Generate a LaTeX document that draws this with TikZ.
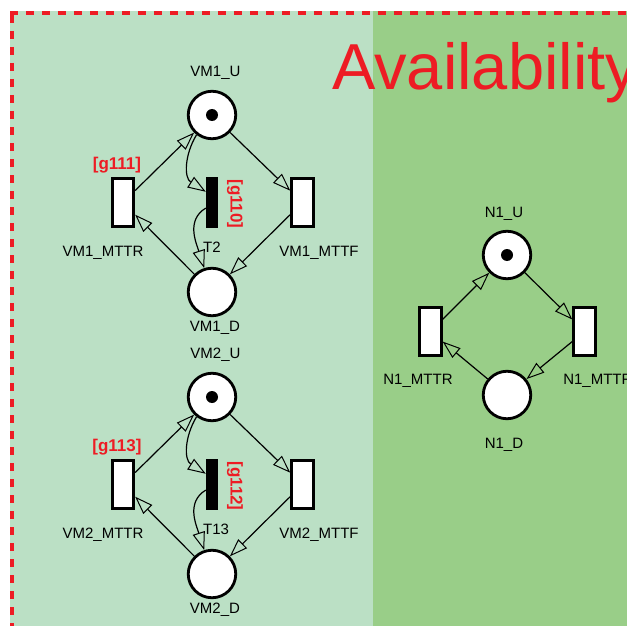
\documentclass[tikz,border=0pt]{standalone}
\usepackage{fontspec}
\setmainfont{Liberation Sans}
\usetikzlibrary{arrows.meta}

\definecolor{availred}{RGB}{237,28,36}
\definecolor{vmgreen}{RGB}{187,224,197}
\definecolor{netgreen}{RGB}{153,206,136}

% One VM availability sub-net: #1 index, #2 name of the immediate transition,
% #3 guard of the repair transition, #4 guard of the immediate transition
\newcommand{\vmblock}[4]{%
  \node[place] (vm#1u) at (212,115) {};
  \node[token] (vm#1dot) at (vm#1u) {};
  \node[place] (vm#1d) at (212,292) {};
  \node[timed] (vm#1mttr) at (123,202.5) {};
  \node[immediate] (vm#1t) at (212,202.5) {};
  \node[timed] (vm#1mttf) at (302.5,202.5) {};
  \node[lbl] (vm#1ulbl) at (215.5,76.5) {VM#1\_U};
  \node[lbl] (vm#1dlbl) at (215,331.5) {VM#1\_D};
  \node[lbl] (vm#1mttrlbl) at (103,256) {VM#1\_MTTR};
  \node[lbl] (vm#1mttflbl) at (319,256) {VM#1\_MTTF};
  \node[lbl, anchor=base west] (vm#1tlbl) at (203,252.5) {#2};
  \node[guard, anchor=base] (vm#1rguard) at (117,169) {#3};
  \node[guard, rotate=-90] (vm#1tguard) at (235,204) {#4};
  \draw[arc] (vm#1mttr) -- (vm#1u);
  \draw[arc] (vm#1u) -- (vm#1mttf);
  \draw[arc] (vm#1mttf) -- (vm#1d);
  \draw[arc] (vm#1d) -- (vm#1mttr);
  \draw[arc] (vm#1u.232) .. controls +(-12,20) and +(-22,-14) .. (vm#1t.120);
  \draw[arc] (vm#1t.222) .. controls +(-20,12) and +(-8,-25) .. (vm#1d.108);
}

\begin{document}
\begin{tikzpicture}[x=1pt,y=-1pt,
  place/.style={circle, draw=black, line width=2.8pt, fill=white,
    minimum size=47.5pt, inner sep=0pt},
  timed/.style={rectangle, draw=black, line width=2.8pt, fill=white,
    minimum width=21.5pt, minimum height=48.5pt, inner sep=0pt},
  immediate/.style={rectangle, fill=black, minimum width=12pt,
    minimum height=51pt, inner sep=0pt},
  token/.style={circle, fill=black, minimum size=12pt, inner sep=0pt},
  lbl/.style={font=\fontsize{15}{18}\selectfont, inner sep=0pt, anchor=base},
  guard/.style={font=\fontsize{17}{20}\selectfont\bfseries, text=availred,
    inner sep=0pt},
  arc/.style={line width=1.2pt,
    -{Triangle[open, length=18pt, width=12.5pt, line width=1pt]}},
  frame/.style={availred, line width=4pt, dash pattern=on 8pt off 8pt},
]
\useasboundingbox (0,0) rectangle (627,626);
\fill[white] (0,0) rectangle (627,626);

% background panels and the dashed frame
\fill[vmgreen] (10,11) rectangle (373,626);
\fill[netgreen] (373,11) rectangle (627,626);
\draw[frame] (10,13) -- (627,13);
\draw[frame] (12,15) -- (12,626);

\node[anchor=base west, text=availred, font=\fontsize{65}{70}\selectfont,
  inner sep=0pt] (title) at (332,89) {Availability};

% VM sub-nets
\vmblock{1}{T2}{[g111]}{[g110]}
\begin{scope}[yshift=-282pt]
  \vmblock{2}{T13}{[g113]}{[g112]}
\end{scope}

% network sub-net
\node[place] (n1u) at (507,255) {};
\node[token] (n1dot) at (n1u) {};
\node[place] (n1d) at (507,395) {};
\node[timed] (n1mttr) at (430.5,331.5) {};
\node[timed] (n1mttf) at (584.5,331.5) {};
\node[lbl] (n1ulbl) at (504,217.5) {N1\_U};
\node[lbl] (n1dlbl) at (504,448.5) {N1\_D};
\node[lbl] (n1mttrlbl) at (418,384.5) {N1\_MTTR};
\node[lbl] (n1mttflbl) at (597,384.5) {N1\_MTTF};
\draw[arc] (n1mttr) -- (n1u);
\draw[arc] (n1u) -- (n1mttf);
\draw[arc] (n1mttf) -- (n1d);
\draw[arc] (n1d) -- (n1mttr);
\end{tikzpicture}
\end{document}
